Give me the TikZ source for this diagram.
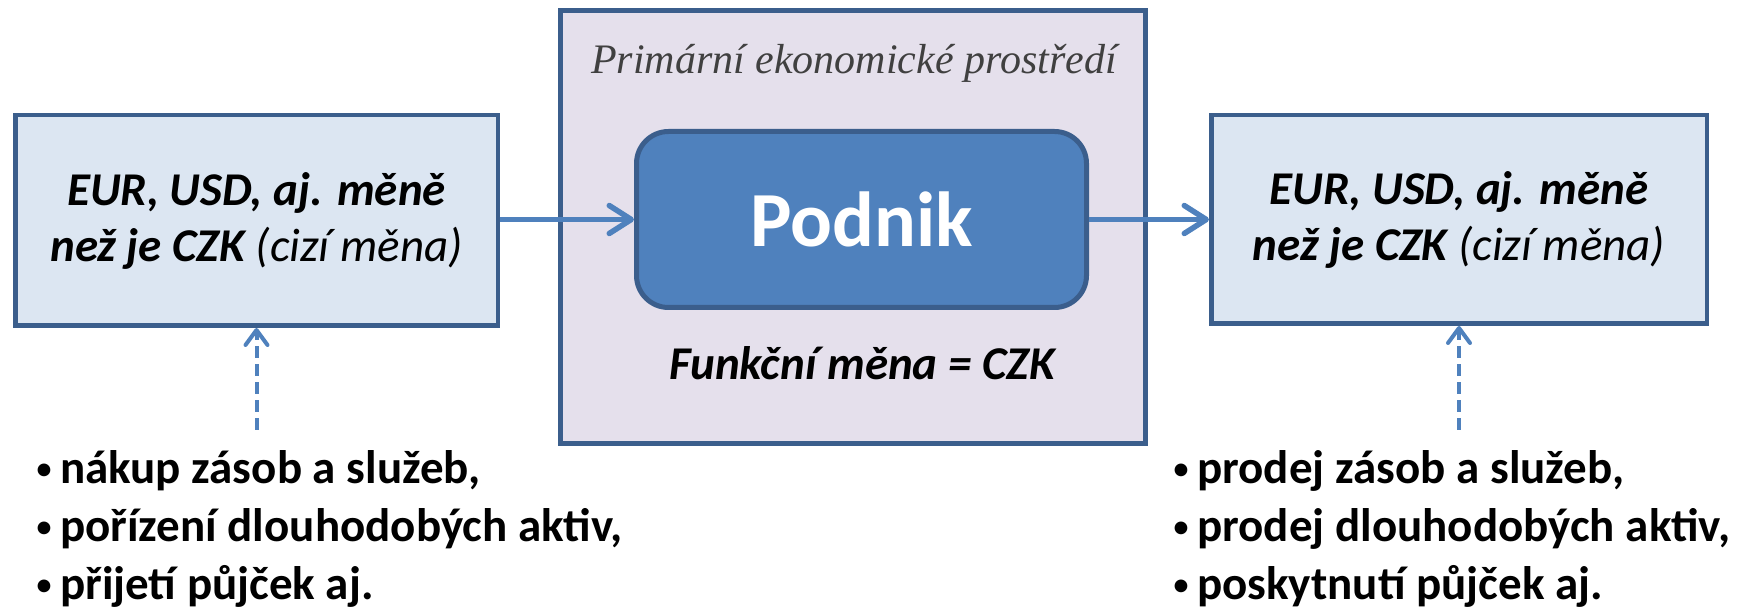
\documentclass[tikz,border=0pt]{standalone}
\usepackage{fontspec}
\setmainfont{Carlito}
\newfontfamily\titleserif{Liberation Serif}
\usetikzlibrary{arrows.meta}
\definecolor{boxblue}{HTML}{DCE6F2}
\definecolor{boxline}{HTML}{3B5E8C}
\definecolor{envfill}{HTML}{E5E0EC}
\definecolor{firmblue}{HTML}{4F81BD}
\definecolor{titlegray}{HTML}{404040}
\newcommand{\itembullet}{{\mdseries\fontsize{36}{36}\selectfont\raisebox{3pt}{•}}\hspace{7pt}}
\begin{document}
\begin{tikzpicture}[x=1pt, y=-1pt,
    currency/.style={rectangle, draw=boxline, fill=boxblue, line width=4.5pt, inner sep=0pt, align=center,
        font=\fontsize{47}{56}\selectfont\bfseries\itshape},
    flow/.style={draw=firmblue, line width=5.5pt, -{Straight Barb[round, length=22pt, width=28pt]}},
    dflow/.style={draw=firmblue, line width=4pt, dash pattern=on 12pt off 6pt, -{Straight Barb[round, length=15pt, width=22pt]}},
    item/.style={anchor=base west, inner sep=0pt, font=\fontsize{47}{56}\selectfont\bfseries}]
    \useasboundingbox (0,0) rectangle (1754,609);

    % Primary economic environment
    \node[rectangle, draw=boxline, fill=envfill, line width=5pt, minimum width=585pt, minimum height=433pt] (E) at (853,227) {};
    \node[anchor=base, inner sep=0pt, font=\fontsize{42}{50}\selectfont\titleserif\itshape, text=titlegray] (T) at (854,74) {Primární ekonomické prostředí};

    % Firm
    \node[rectangle, rounded corners=32pt, draw=boxline, fill=firmblue, line width=5pt, minimum width=450pt, minimum height=176pt,
        text=white, font=\fontsize{78}{90}\selectfont\bfseries] (P) at (861.5,219.5) {Podnik};
    \node[anchor=base, inner sep=0pt, font=\fontsize{47}{56}\selectfont\bfseries\itshape] (F) at (862,380) {Funkční měna = CZK};

    % Foreign currency boxes
    \node[currency, minimum width=482.5pt, minimum height=210.5pt] (L) at (256.5,220.5)
        {EUR, USD, aj. měně\\ než je CZK {\mdseries (cizí měna)}};
    \node[currency, minimum width=495.5pt, minimum height=208.5pt] (R) at (1459,219.5)
        {EUR, USD, aj. měně\\ než je CZK {\mdseries (cizí měna)}};

    % Flows through the firm
    \draw[flow] (L.east |- P.west) -- (P.west);
    \draw[flow] (P.east) -- (R.west |- P.east);

    % Transactions in foreign currency
    \foreach \t [count=\i] in {{nákup zásob a služeb,}, {pořízení dlouhodobých aktiv,}, {přijetí půjček aj.}} {
        \node[item] (L\i) at (35,425+58*\i) {\itembullet\t};
    }
    \foreach \t [count=\i] in {{prodej zásob a služeb,}, {prodej dlouhodobých aktiv,}, {poskytnutí půjček aj.}} {
        \node[item] (R\i) at (1172,425+58*\i) {\itembullet\t};
    }
    \coordinate (la) at (L.south |- 0,430);
    \coordinate (ra) at (R.south |- 0,430);
    \draw[dflow] (la) -- (L.south);
    \draw[dflow] (ra) -- (R.south);
\end{tikzpicture}
\end{document}
